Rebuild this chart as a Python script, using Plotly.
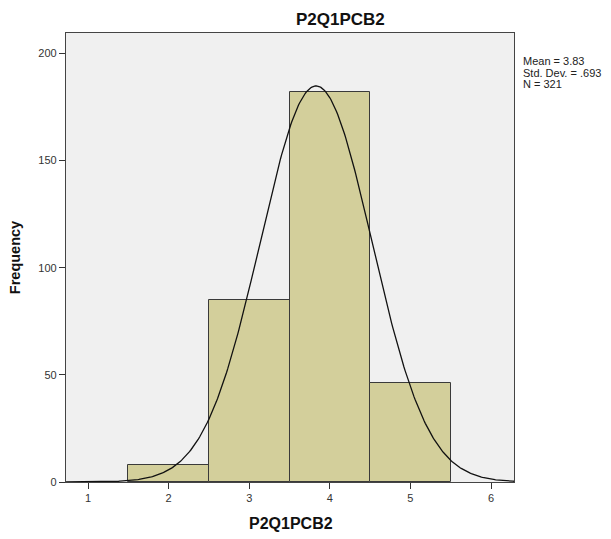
import numpy as np
import plotly.graph_objects as go

# Histogram of P2Q1PCB2 (bin width 1)
bin_centers = [2, 3, 4, 5]
frequencies = [8, 85, 182, 46]

# Summary statistics shown beside the plot
mean_val = 3.83
std_dev = 0.693
n_total = 321

x_ticks = [1, 2, 3, 4, 5, 6]
y_ticks = [0, 50, 100, 150, 200]

x_range = [0.727, 6.285]
y_range = [0, 209.5]

# Normal density scaled to counts (N * bin width * pdf)
xs = np.linspace(x_range[0], x_range[1], 400)
bin_width = 1.0
ys = n_total * bin_width / (std_dev * np.sqrt(2 * np.pi)) * np.exp(-0.5 * ((xs - mean_val) / std_dev) ** 2)

W, H = 611, 539
ML, MR, MT, MB = 66, 97, 33, 57

fig = go.Figure()
fig.add_trace(go.Bar(
    x=bin_centers, y=frequencies, width=1.0,
    marker=dict(color="#d3cf9b", line=dict(color="#3a3a3a", width=1)),
    hoverinfo="x+y", showlegend=False,
))
fig.add_trace(go.Scatter(
    x=xs, y=ys, mode="lines",
    line=dict(color="#111111", width=1.3), showlegend=False, hoverinfo="skip",
))

fig.update_layout(
    width=W, height=H,
    margin=dict(l=ML, r=MR, t=MT, b=MB),
    paper_bgcolor="white", plot_bgcolor="#f0f0f0",
    font=dict(family="Liberation Sans, Arial, sans-serif", color="#222222"),
    bargap=0,
)
fig.update_xaxes(
    range=x_range, tickvals=x_ticks, ticks="outside", ticklen=6, tickcolor="#333333",
    showgrid=False, zeroline=False, showline=True, linecolor="#444444", linewidth=1.3,
    mirror=True, tickfont=dict(size=11, color="#333333"),
)
fig.update_yaxes(
    range=y_range, tickvals=y_ticks, ticks="outside", ticklen=6, tickcolor="#333333",
    showgrid=False, zeroline=False, showline=True, linecolor="#444444", linewidth=1.3,
    mirror=True, tickfont=dict(size=11, color="#333333"),
    title=dict(text="<b>Frequency</b>", font=dict(size=14.5, color="#111111"), standoff=14),
)

# Chart title
fig.add_annotation(
    text="<b>P2Q1PCB2</b>", xref="paper", yref="paper",
    x=(340 - ML) / (W - ML - MR), y=1 + (MT - 19) / (H - MT - MB),
    xanchor="center", yanchor="middle", showarrow=False,
    font=dict(size=17, color="#111111"),
)
# X axis title
fig.add_annotation(
    text="<b>P2Q1PCB2</b>", xref="paper", yref="paper",
    x=(291 - ML) / (W - ML - MR), y=-(523 - (H - MB)) / (H - MT - MB),
    xanchor="center", yanchor="middle", showarrow=False,
    font=dict(size=16, color="#111111"),
)

# Statistics box text, one line per annotation for tight spacing
stat_lines = [f"Mean = {mean_val:.2f}", f"Std. Dev. = {str(std_dev)[1:]}", f"N = {n_total}"]
for i, line in enumerate(stat_lines):
    fig.add_annotation(
        text=line, xref="paper", yref="paper",
        x=1 + (521 - (W - MR)) / (W - ML - MR), y=1 - (61.5 + 11.5 * i - MT) / (H - MT - MB),
        xanchor="left", yanchor="middle", showarrow=False, align="left",
        font=dict(size=11, color="#222222"),
    )

fig.write_html("out.html")
